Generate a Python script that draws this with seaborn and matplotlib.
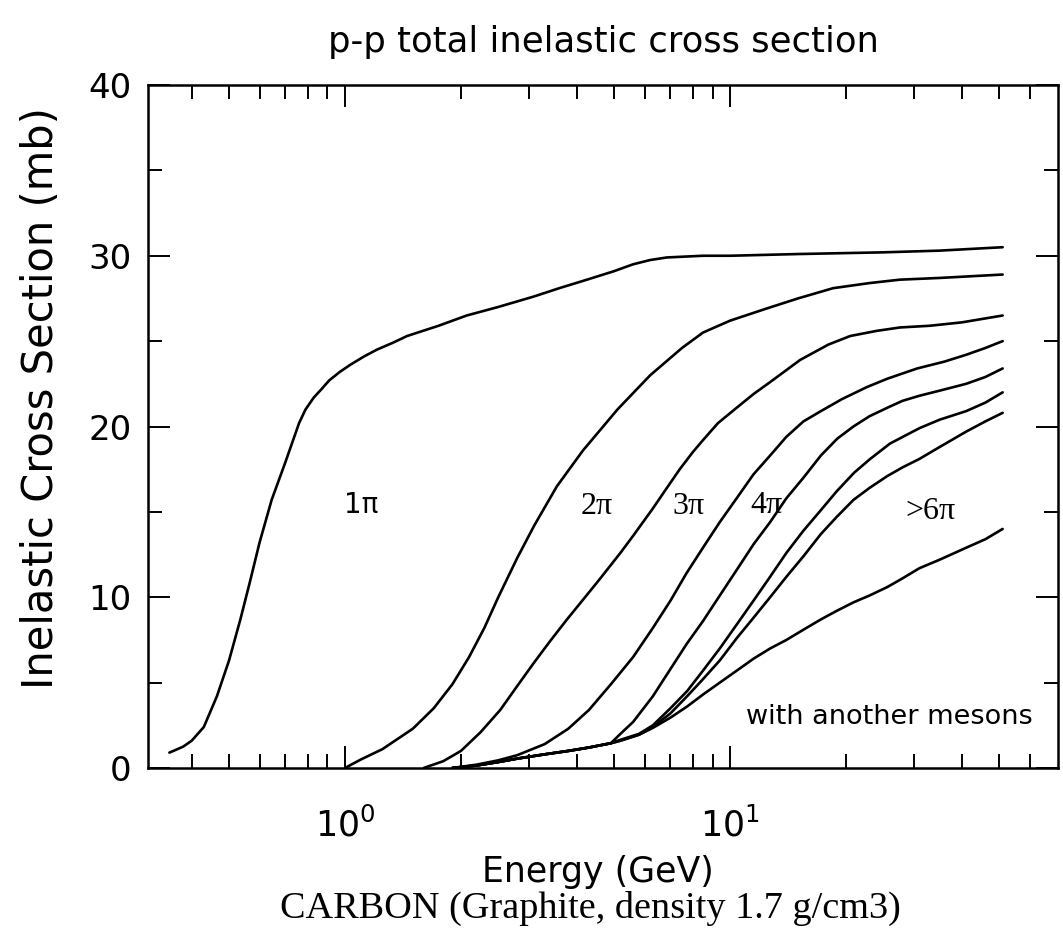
import matplotlib
matplotlib.use("Agg")
import matplotlib.pyplot as plt
import matplotlib.ticker as mticker
import seaborn as sns
import pandas as pd

# ---------------- data ----------------
E1 = [0.35, 0.38, 0.40, 0.43, 0.465, 0.50, 0.535, 0.565, 0.60, 0.645, 0.70, 0.76, 0.79, 0.83, 0.87,
      0.91, 0.97, 1.03, 1.12, 1.21, 1.33, 1.45, 1.75, 2.07, 2.5, 3.08, 3.6, 4.25, 5.0, 5.6, 6.2, 6.85,
      8.5, 10, 15, 25, 35, 51]
S1 = [0.9, 1.25, 1.6, 2.4, 4.2, 6.3, 8.7, 10.8, 13.2, 15.7, 17.9, 20.2, 21.0, 21.7, 22.2,
      22.7, 23.2, 23.6, 24.1, 24.5, 24.9, 25.3, 25.9, 26.5, 27.0, 27.6, 28.1, 28.6, 29.1, 29.5, 29.75, 29.9,
      30.0, 30.0, 30.1, 30.2, 30.3, 30.5]

E2 = [1.0, 1.1, 1.25, 1.5, 1.7, 1.9, 2.1, 2.3, 2.5, 2.8, 3.1, 3.55, 4.15, 5.1, 6.2, 7.5, 8.5, 10,
      12.4, 15, 18.5, 23, 27.6, 35, 51]
S2 = [0.0, 0.5, 1.1, 2.3, 3.5, 4.9, 6.5, 8.2, 10.0, 12.3, 14.2, 16.5, 18.6, 21.0, 23.0, 24.6, 25.5, 26.2,
      26.9, 27.5, 28.1, 28.4, 28.6, 28.7, 28.9]

E3 = [1.6, 1.8, 2.0, 2.25, 2.53, 2.8, 3.08, 3.4, 3.77, 4.2, 4.6, 5.19, 5.6, 6.3, 6.85, 7.4, 8.0, 8.5,
      9.3, 10.4, 11.5, 12.7, 15.2, 18, 20.5, 24, 27.6, 33, 40, 51]
S3 = [0.0, 0.4, 1.0, 2.1, 3.4, 4.8, 6.1, 7.4, 8.7, 10.0, 11.1, 12.6, 13.6, 15.2, 16.4, 17.5, 18.5, 19.2,
      20.2, 21.1, 21.9, 22.6, 23.9, 24.8, 25.3, 25.6, 25.8, 25.9, 26.1, 26.5]

E4 = [1.9, 2.2, 2.5, 2.8, 3.3, 3.8, 4.3, 4.9, 5.6, 6.3, 7.0, 7.7, 8.5, 9.4, 10.4, 11.5, 12.7, 14.0,
      15.5, 17.2, 19.5, 22.6, 25.6, 30.6, 36, 41, 46, 51]
S4 = [0.0, 0.2, 0.45, 0.75, 1.4, 2.3, 3.4, 4.9, 6.5, 8.2, 9.8, 11.4, 12.9, 14.4, 15.8, 17.2, 18.3, 19.4,
      20.3, 20.9, 21.6, 22.3, 22.8, 23.4, 23.8, 24.2, 24.6, 25.0]

EB = [1.9, 2.2, 2.5, 2.8, 3.3, 3.8, 4.3, 4.9]
SB = [0.0, 0.15, 0.35, 0.55, 0.8, 1.0, 1.2, 1.45]

E5 = EB + [5.19, 5.6, 6.3, 7.0, 7.73, 8.5, 9.4, 10.4, 11.5, 12.7, 14.0, 15.5, 17.2, 19.0, 20.9, 23.0,
           25.6, 28.0, 31.0, 35.0, 41.0, 46.0, 51.0]
S5 = SB + [2.0, 2.7, 4.2, 5.8, 7.3, 8.6, 10.1, 11.6, 13.1, 14.4, 15.8, 17.0, 18.3, 19.3, 20.0, 20.6,
           21.1, 21.5, 21.8, 22.1, 22.5, 22.9, 23.4]

E6 = EB + [5.19, 5.8, 6.3, 7.0, 7.73, 8.5, 9.4, 10.4, 11.5, 12.7, 14.0, 15.5, 17.2, 18.9, 21.0, 23.1,
           26.0, 31.0, 35.0, 41.0, 46.0, 51.0]
S6 = SB + [1.65, 2.0, 2.5, 3.5, 4.5, 5.7, 7.0, 8.4, 9.8, 11.2, 12.6, 13.9, 15.1, 16.2, 17.3, 18.1,
           19.0, 19.9, 20.4, 20.9, 21.4, 22.0]

E7 = EB + [5.19, 5.8, 6.3, 7.0, 7.73, 8.5, 9.4, 10.4, 11.5, 12.7, 14.0, 15.5, 17.2, 18.9, 20.9, 23.0,
           25.6, 28.0, 31.0, 35.0, 41.0, 46.0, 51.0]
S7 = SB + [1.6, 1.95, 2.4, 3.2, 4.2, 5.2, 6.3, 7.6, 8.8, 10.0, 11.2, 12.4, 13.7, 14.7, 15.7, 16.4,
           17.1, 17.6, 18.1, 18.8, 19.7, 20.3, 20.8]

E8 = EB + [5.19, 5.8, 6.3, 7.0, 7.73, 8.5, 9.4, 10.4, 11.5, 12.7, 14.0, 15.5, 17.2, 18.9, 20.9, 23.0,
           25.6, 28.0, 31.0, 35.0, 41.0, 46.0, 51.0]
S8 = SB + [1.6, 1.95, 2.35, 2.95, 3.6, 4.3, 5.0, 5.7, 6.4, 7.0, 7.5, 8.1, 8.7, 9.2, 9.7, 10.1,
           10.6, 11.1, 11.7, 12.2, 12.9, 13.4, 14.0]

curves = [(E1, S1), (E2, S2), (E3, S3), (E4, S4), (E5, S5), (E6, S6), (E7, S7), (E8, S8)]

labels = ["1π", "2π", "3π", "4π", ">6π", "with another mesons"]
label_E = [1.10, 4.49, 7.78, 12.4, 33.1, 25.9]
label_S = [15.4, 15.3, 15.3, 15.4, 15.0, 3.0]

x_major = [1, 10]
x_minor = [0.4, 0.5, 0.6, 0.7, 0.8, 0.9, 2, 3, 4, 5, 6, 7, 8, 9, 20, 30, 40, 50, 60]
y_major = [0, 10, 20, 30, 40]
y_minor = [5, 15, 25, 35]

# ---------------- figure ----------------
sns.set_theme(style="ticks")
plt.rcParams['font.family'] = ['DejaVu Sans']
plt.rcParams['mathtext.fontset'] = 'dejavusans'

fig = plt.figure(figsize=(10.63, 9.31), dpi=100)
ax = fig.add_axes([148 / 1063, (931 - 768) / 931, 910 / 1063, 683 / 931])
ax.set_xscale('log')

rows = []
for i, (e, s) in enumerate(curves):
    for a, b in zip(e, s):
        rows.append({"E": a, "S": b, "curve": i})
df = pd.DataFrame(rows)
for i in range(len(curves)):
    sub = df[df["curve"] == i]
    sns.lineplot(data=sub, x="E", y="S", ax=ax, color="black", linewidth=1.9,
                 sort=False, estimator=None, legend=False)

ax.set_xlim(0.308, 71)
ax.set_ylim(0, 40)

ax.xaxis.set_major_locator(mticker.FixedLocator(x_major))
ax.xaxis.set_major_formatter(mticker.LogFormatterSciNotation())
ax.xaxis.set_minor_locator(mticker.FixedLocator(x_minor))
ax.xaxis.set_minor_formatter(mticker.NullFormatter())
ax.yaxis.set_major_locator(mticker.FixedLocator(y_major))
ax.yaxis.set_minor_locator(mticker.FixedLocator(y_minor))

ax.tick_params(which='both', direction='in', top=True, right=True, colors='black', width=1.4)
ax.tick_params(which='major', length=16)
ax.tick_params(which='minor', length=10)
ax.tick_params(axis='y', which='major', labelsize=24.5, pad=12)
ax.tick_params(axis='x', which='major', labelsize=25, pad=28)

for sp in ax.spines.values():
    sp.set_visible(True)
    sp.set_linewidth(1.8)
    sp.set_color('black')

ax.set_ylabel("Inelastic Cross Section (mb)", fontsize=30, color='black')
ax.yaxis.set_label_coords(-0.095, 0.542)
ax.set_xlabel("Energy (GeV)", fontsize=25, color='black')
ax.xaxis.set_label_coords(0.4945, -0.127)
ax.xaxis.label.set_va('top')

ax.set_title("p-p total inelastic cross section", fontsize=25.5, color='black', y=1.049, pad=0)

for t, e, s in zip(labels, label_E, label_S):
    if t == "with another mesons":
        ax.text(e, s, t, fontsize=19.5, ha='center', va='center', color='black')
    elif t == "1π":
        ax.text(e, s, t, fontsize=20, ha='center', va='center', color='black')
    else:
        ax.text(e, s, t, fontsize=23, ha='center', va='center', color='black',
                family=['Liberation Serif', 'DejaVu Serif'])

fig.text(590 / 1063, 1 - 908 / 931, "CARBON (Graphite, density 1.7 g/cm3)",
         fontsize=27.5, ha='center', va='center', color='black',
         family=['Liberation Serif', 'DejaVu Serif'])

fig.savefig("out.png", dpi=100)
